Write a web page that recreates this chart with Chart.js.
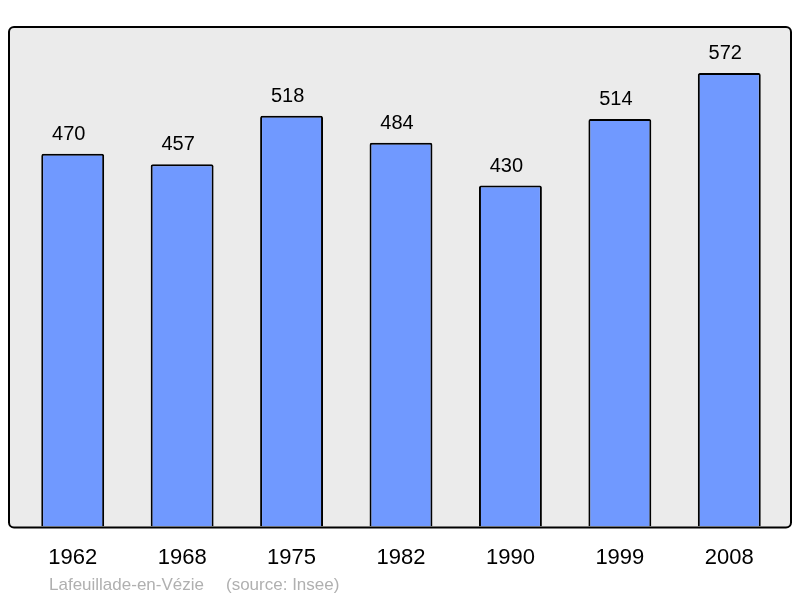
<!DOCTYPE html>
<html>
<head>
<meta charset="utf-8">
<script src="https://cdn.jsdelivr.net/npm/chart.js@4"></script>
<style>
  html, body { margin: 0; padding: 0; background: #ffffff; }
  #wrap { width: 800px; height: 598px; }
</style>
</head>
<body>
<div id="wrap"><canvas id="popChart" width="800" height="598"></canvas></div>
<script>
// data
const years = ['1962', '1968', '1975', '1982', '1990', '1999', '2008'];
const population = [470, 457, 518, 484, 430, 514, 572];
const commune = 'Lafeuillade-en-Vézie';
const source = '(source: Insee)';

// grey rounded panel behind the bars
const panelPlugin = {
    id: 'panel',
    beforeDraw(chart) {
        const a = chart.chartArea;
        const ctx = chart.ctx;
        const x = a.left - 9, y = a.top, w = a.right + 7 - x, h = a.bottom + 1 - y;
        ctx.save();
        ctx.beginPath();
        ctx.roundRect(x, y, w, h, 5);
        ctx.fillStyle = '#ebebeb';
        ctx.fill();
        ctx.restore();
    },
    afterDatasetsDraw(chart) {
        const a = chart.chartArea;
        const ctx = chart.ctx;
        const x = a.left - 9, y = a.top, w = a.right + 7 - x, h = a.bottom + 1 - y;
        ctx.save();
        ctx.beginPath();
        ctx.roundRect(x, y, w, h, 5);
        ctx.lineWidth = 2;
        ctx.strokeStyle = '#000000';
        ctx.stroke();

        // values above bars
        ctx.fillStyle = '#000000';
        ctx.font = '20px "Liberation Sans", Arial, sans-serif';
        ctx.textAlign = 'center';
        ctx.textBaseline = 'alphabetic';
        chart.getDatasetMeta(0).data.forEach((bar, i) => {
            ctx.fillText(String(population[i]), bar.x - 4, bar.y - 14);
        });

        // footer
        ctx.fillStyle = '#b0b0b0';
        ctx.font = '17px "Liberation Sans", Arial, sans-serif';
        ctx.textAlign = 'left';
        ctx.fillText(commune, 49, 590);
        ctx.fillText(source, 226, 590);
        ctx.restore();
    }
};

const popChart = new Chart(document.getElementById('popChart'), {
    type: 'bar',
    data: {
        labels: years,
        datasets: [{
            data: population,
            backgroundColor: '#7099ff',
            borderColor: '#000000',
            borderWidth: 2,
            borderRadius: 2,
            borderSkipped: 'bottom',
            barPercentage: 0.575,
            categoryPercentage: 1
        }]
    },
    options: {
        responsive: false,
        animation: false,
        layout: {
            padding: { left: 18, right: 16, top: 27, bottom: 0 }
        },
        plugins: {
            legend: { display: false },
            tooltip: { enabled: false }
        },
        scales: {
            x: {
                grid: { display: false, drawTicks: false },
                border: { display: false },
                ticks: {
                    color: '#000000',
                    padding: 18,
                    font: { family: '"Liberation Sans", Arial, sans-serif', size: 22 }
                },
                afterFit(scale) { scale.height = 71.5; }
            },
            y: {
                display: false,
                min: 0,
                max: 630
            }
        }
    },
    plugins: [panelPlugin]
});
</script>
</body>
</html>
